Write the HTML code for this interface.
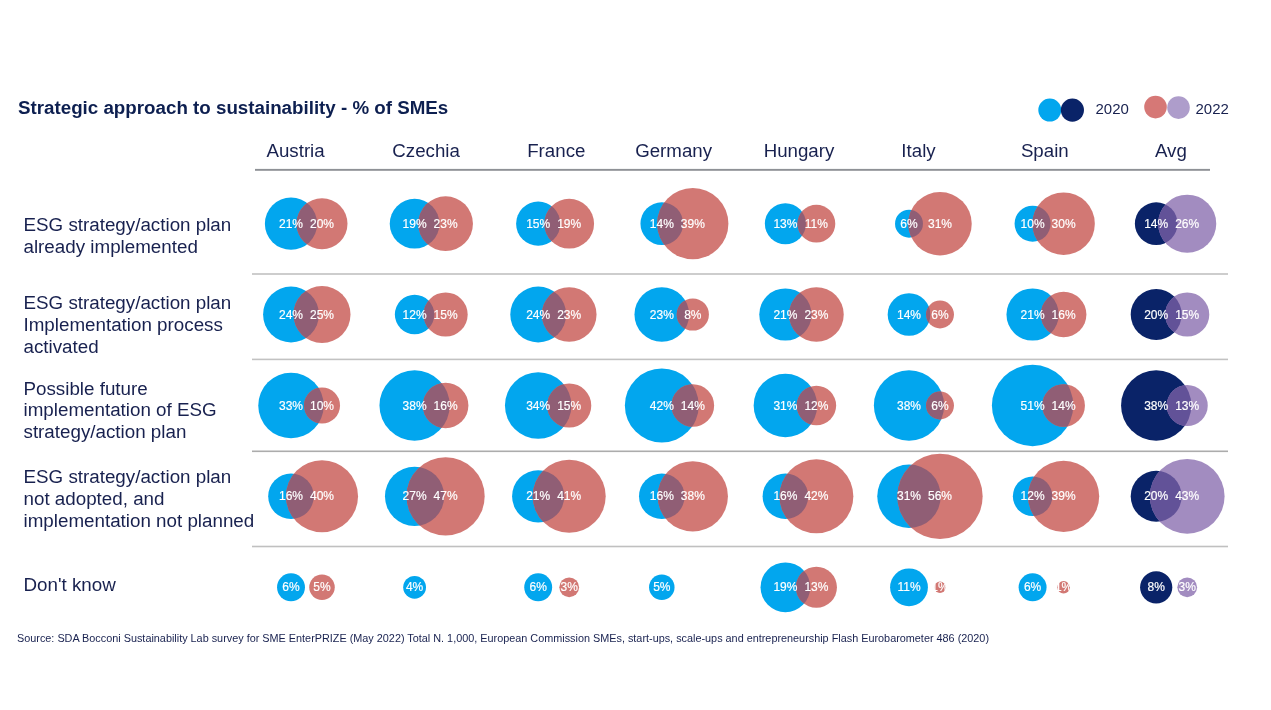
<!DOCTYPE html>
<html><head><meta charset="utf-8"><style>
html,body{margin:0;padding:0;background:#fff;}
body{width:1271px;height:710px;overflow:hidden;position:relative;}
svg{position:absolute;left:0;top:0;will-change:transform;}
text{font-family:"Liberation Sans",sans-serif;}
</style></head><body>
<svg width="1271" height="710" viewBox="0 0 1271 710">
<rect width="1271" height="710" fill="#fff"/>

<text x="18" y="113.6" font-size="18.75" font-weight="bold" fill="#0d1f50">Strategic approach to sustainability - % of SMEs</text>
<circle cx="1049.8" cy="110.1" r="11.5" fill="#02a6ee"/>
<circle cx="1072.4" cy="110.1" r="11.6" fill="#0a2368"/>
<text x="1095.5" y="114.3" font-size="15" fill="#18214f">2020</text>
<circle cx="1178.5" cy="107.6" r="11.3" fill="#ae9dcb"/>
<circle cx="1155.5" cy="107.1" r="11.3" fill="#d67876"/>
<text x="1195.5" y="113.6" font-size="15" fill="#18214f">2022</text>
<text x="295.6" y="156.8" font-size="18.7" fill="#18214f" text-anchor="middle">Austria</text>
<text x="426.1" y="156.8" font-size="18.7" fill="#18214f" text-anchor="middle">Czechia</text>
<text x="556.3" y="156.8" font-size="18.7" fill="#18214f" text-anchor="middle">France</text>
<text x="673.6" y="156.8" font-size="18.7" fill="#18214f" text-anchor="middle">Germany</text>
<text x="799.0" y="156.8" font-size="18.7" fill="#18214f" text-anchor="middle">Hungary</text>
<text x="918.5" y="156.8" font-size="18.7" fill="#18214f" text-anchor="middle">Italy</text>
<text x="1044.8" y="156.8" font-size="18.7" fill="#18214f" text-anchor="middle">Spain</text>
<text x="1170.9" y="156.8" font-size="18.7" fill="#18214f" text-anchor="middle">Avg</text>
<rect x="255" y="168.9" width="955" height="1.9" fill="#8e9196"/>
<rect x="252" y="273.1" width="976" height="1.8" fill="#c8c8c8"/>
<rect x="252" y="358.6" width="976" height="1.6" fill="#c2c2c2"/>
<rect x="252" y="450.5" width="976" height="1.6" fill="#acacac"/>
<rect x="252" y="545.7" width="976" height="1.6" fill="#c0c0c0"/>
<text x="23.5" y="231.3" font-size="18.8" fill="#18214f">ESG strategy/action plan</text>
<text x="23.5" y="252.6" font-size="18.8" fill="#18214f">already implemented</text>
<text x="23.5" y="309.1" font-size="18.8" fill="#18214f">ESG strategy/action plan</text>
<text x="23.5" y="330.7" font-size="18.8" fill="#18214f">Implementation process</text>
<text x="23.5" y="352.5" font-size="18.8" fill="#18214f">activated</text>
<text x="23.5" y="394.6" font-size="18.8" fill="#18214f">Possible future</text>
<text x="23.5" y="416.1" font-size="18.8" fill="#18214f">implementation of ESG</text>
<text x="23.5" y="437.7" font-size="18.8" fill="#18214f">strategy/action plan</text>
<text x="23.5" y="482.9" font-size="18.8" fill="#18214f">ESG strategy/action plan</text>
<text x="23.5" y="504.6" font-size="18.8" fill="#18214f">not adopted, and</text>
<text x="23.5" y="526.7" font-size="18.8" fill="#18214f">implementation not planned</text>
<text x="23.5" y="591.1" font-size="18.8" fill="#18214f">Don&#39;t know</text>
<circle cx="291.0" cy="223.7" r="26.12" fill="#02a6ee"/>
<circle cx="322.0" cy="223.7" r="25.49" fill="#d27874"/>
<clipPath id="c00"><circle cx="322.0" cy="223.7" r="25.49"/></clipPath>
<circle cx="291.0" cy="223.7" r="26.12" fill="#905e75" clip-path="url(#c00)"/>
<text x="291.0" y="227.8" font-size="12" fill="#fff" stroke="#fff" stroke-width="0.18" text-anchor="middle">21%</text>
<text x="322.0" y="227.8" font-size="12" fill="#fff" stroke="#fff" stroke-width="0.18" text-anchor="middle">20%</text>
<circle cx="414.6" cy="223.7" r="24.85" fill="#02a6ee"/>
<circle cx="445.6" cy="223.7" r="27.34" fill="#d27874"/>
<clipPath id="c01"><circle cx="445.6" cy="223.7" r="27.34"/></clipPath>
<circle cx="414.6" cy="223.7" r="24.85" fill="#905e75" clip-path="url(#c01)"/>
<text x="414.6" y="227.8" font-size="12" fill="#fff" stroke="#fff" stroke-width="0.18" text-anchor="middle">19%</text>
<text x="445.6" y="227.8" font-size="12" fill="#fff" stroke="#fff" stroke-width="0.18" text-anchor="middle">23%</text>
<circle cx="538.2" cy="223.7" r="22.08" fill="#02a6ee"/>
<circle cx="569.2" cy="223.7" r="24.85" fill="#d27874"/>
<clipPath id="c02"><circle cx="569.2" cy="223.7" r="24.85"/></clipPath>
<circle cx="538.2" cy="223.7" r="22.08" fill="#905e75" clip-path="url(#c02)"/>
<text x="538.2" y="227.8" font-size="12" fill="#fff" stroke="#fff" stroke-width="0.18" text-anchor="middle">15%</text>
<text x="569.2" y="227.8" font-size="12" fill="#fff" stroke="#fff" stroke-width="0.18" text-anchor="middle">19%</text>
<circle cx="661.8" cy="223.7" r="21.33" fill="#02a6ee"/>
<circle cx="692.8" cy="223.7" r="35.60" fill="#d27874"/>
<clipPath id="c03"><circle cx="692.8" cy="223.7" r="35.60"/></clipPath>
<circle cx="661.8" cy="223.7" r="21.33" fill="#905e75" clip-path="url(#c03)"/>
<text x="661.8" y="227.8" font-size="12" fill="#fff" stroke="#fff" stroke-width="0.18" text-anchor="middle">14%</text>
<text x="692.8" y="227.8" font-size="12" fill="#fff" stroke="#fff" stroke-width="0.18" text-anchor="middle">39%</text>
<circle cx="785.4" cy="223.7" r="20.55" fill="#02a6ee"/>
<circle cx="816.4" cy="223.7" r="18.90" fill="#d27874"/>
<clipPath id="c04"><circle cx="816.4" cy="223.7" r="18.90"/></clipPath>
<circle cx="785.4" cy="223.7" r="20.55" fill="#905e75" clip-path="url(#c04)"/>
<text x="785.4" y="227.8" font-size="12" fill="#fff" stroke="#fff" stroke-width="0.18" text-anchor="middle">13%</text>
<text x="816.4" y="227.8" font-size="12" fill="#fff" stroke="#fff" stroke-width="0.18" text-anchor="middle">11%</text>
<circle cx="909.0" cy="223.7" r="13.96" fill="#02a6ee"/>
<circle cx="940.0" cy="223.7" r="31.74" fill="#d27874"/>
<clipPath id="c05"><circle cx="940.0" cy="223.7" r="31.74"/></clipPath>
<circle cx="909.0" cy="223.7" r="13.96" fill="#905e75" clip-path="url(#c05)"/>
<text x="909.0" y="227.8" font-size="12" fill="#fff" stroke="#fff" stroke-width="0.18" text-anchor="middle">6%</text>
<text x="940.0" y="227.8" font-size="12" fill="#fff" stroke="#fff" stroke-width="0.18" text-anchor="middle">31%</text>
<circle cx="1032.6" cy="223.7" r="18.02" fill="#02a6ee"/>
<circle cx="1063.6" cy="223.7" r="31.22" fill="#d27874"/>
<clipPath id="c06"><circle cx="1063.6" cy="223.7" r="31.22"/></clipPath>
<circle cx="1032.6" cy="223.7" r="18.02" fill="#905e75" clip-path="url(#c06)"/>
<text x="1032.6" y="227.8" font-size="12" fill="#fff" stroke="#fff" stroke-width="0.18" text-anchor="middle">10%</text>
<text x="1063.6" y="227.8" font-size="12" fill="#fff" stroke="#fff" stroke-width="0.18" text-anchor="middle">30%</text>
<circle cx="1156.2" cy="223.7" r="21.33" fill="#0a2368"/>
<circle cx="1187.2" cy="223.7" r="29.06" fill="#a28cc0"/>
<clipPath id="c07"><circle cx="1187.2" cy="223.7" r="29.06"/></clipPath>
<circle cx="1156.2" cy="223.7" r="21.33" fill="#625298" clip-path="url(#c07)"/>
<text x="1156.2" y="227.8" font-size="12" fill="#fff" stroke="#fff" stroke-width="0.18" text-anchor="middle">14%</text>
<text x="1187.2" y="227.8" font-size="12" fill="#fff" stroke="#fff" stroke-width="0.18" text-anchor="middle">26%</text>
<circle cx="291.0" cy="314.5" r="27.92" fill="#02a6ee"/>
<circle cx="322.0" cy="314.5" r="28.50" fill="#d27874"/>
<clipPath id="c10"><circle cx="322.0" cy="314.5" r="28.50"/></clipPath>
<circle cx="291.0" cy="314.5" r="27.92" fill="#905e75" clip-path="url(#c10)"/>
<text x="291.0" y="318.6" font-size="12" fill="#fff" stroke="#fff" stroke-width="0.18" text-anchor="middle">24%</text>
<text x="322.0" y="318.6" font-size="12" fill="#fff" stroke="#fff" stroke-width="0.18" text-anchor="middle">25%</text>
<circle cx="414.6" cy="314.5" r="19.75" fill="#02a6ee"/>
<circle cx="445.6" cy="314.5" r="22.08" fill="#d27874"/>
<clipPath id="c11"><circle cx="445.6" cy="314.5" r="22.08"/></clipPath>
<circle cx="414.6" cy="314.5" r="19.75" fill="#905e75" clip-path="url(#c11)"/>
<text x="414.6" y="318.6" font-size="12" fill="#fff" stroke="#fff" stroke-width="0.18" text-anchor="middle">12%</text>
<text x="445.6" y="318.6" font-size="12" fill="#fff" stroke="#fff" stroke-width="0.18" text-anchor="middle">15%</text>
<circle cx="538.2" cy="314.5" r="27.92" fill="#02a6ee"/>
<circle cx="569.2" cy="314.5" r="27.34" fill="#d27874"/>
<clipPath id="c12"><circle cx="569.2" cy="314.5" r="27.34"/></clipPath>
<circle cx="538.2" cy="314.5" r="27.92" fill="#905e75" clip-path="url(#c12)"/>
<text x="538.2" y="318.6" font-size="12" fill="#fff" stroke="#fff" stroke-width="0.18" text-anchor="middle">24%</text>
<text x="569.2" y="318.6" font-size="12" fill="#fff" stroke="#fff" stroke-width="0.18" text-anchor="middle">23%</text>
<circle cx="661.8" cy="314.5" r="27.34" fill="#02a6ee"/>
<circle cx="692.8" cy="314.5" r="16.12" fill="#d27874"/>
<clipPath id="c13"><circle cx="692.8" cy="314.5" r="16.12"/></clipPath>
<circle cx="661.8" cy="314.5" r="27.34" fill="#905e75" clip-path="url(#c13)"/>
<text x="661.8" y="318.6" font-size="12" fill="#fff" stroke="#fff" stroke-width="0.18" text-anchor="middle">23%</text>
<text x="692.8" y="318.6" font-size="12" fill="#fff" stroke="#fff" stroke-width="0.18" text-anchor="middle">8%</text>
<circle cx="785.4" cy="314.5" r="26.12" fill="#02a6ee"/>
<circle cx="816.4" cy="314.5" r="27.34" fill="#d27874"/>
<clipPath id="c14"><circle cx="816.4" cy="314.5" r="27.34"/></clipPath>
<circle cx="785.4" cy="314.5" r="26.12" fill="#905e75" clip-path="url(#c14)"/>
<text x="785.4" y="318.6" font-size="12" fill="#fff" stroke="#fff" stroke-width="0.18" text-anchor="middle">21%</text>
<text x="816.4" y="318.6" font-size="12" fill="#fff" stroke="#fff" stroke-width="0.18" text-anchor="middle">23%</text>
<circle cx="909.0" cy="314.5" r="21.33" fill="#02a6ee"/>
<circle cx="940.0" cy="314.5" r="13.96" fill="#d27874"/>
<clipPath id="c15"><circle cx="940.0" cy="314.5" r="13.96"/></clipPath>
<circle cx="909.0" cy="314.5" r="21.33" fill="#905e75" clip-path="url(#c15)"/>
<text x="909.0" y="318.6" font-size="12" fill="#fff" stroke="#fff" stroke-width="0.18" text-anchor="middle">14%</text>
<text x="940.0" y="318.6" font-size="12" fill="#fff" stroke="#fff" stroke-width="0.18" text-anchor="middle">6%</text>
<circle cx="1032.6" cy="314.5" r="26.12" fill="#02a6ee"/>
<circle cx="1063.6" cy="314.5" r="22.80" fill="#d27874"/>
<clipPath id="c16"><circle cx="1063.6" cy="314.5" r="22.80"/></clipPath>
<circle cx="1032.6" cy="314.5" r="26.12" fill="#905e75" clip-path="url(#c16)"/>
<text x="1032.6" y="318.6" font-size="12" fill="#fff" stroke="#fff" stroke-width="0.18" text-anchor="middle">21%</text>
<text x="1063.6" y="318.6" font-size="12" fill="#fff" stroke="#fff" stroke-width="0.18" text-anchor="middle">16%</text>
<circle cx="1156.2" cy="314.5" r="25.49" fill="#0a2368"/>
<circle cx="1187.2" cy="314.5" r="22.08" fill="#a28cc0"/>
<clipPath id="c17"><circle cx="1187.2" cy="314.5" r="22.08"/></clipPath>
<circle cx="1156.2" cy="314.5" r="25.49" fill="#625298" clip-path="url(#c17)"/>
<text x="1156.2" y="318.6" font-size="12" fill="#fff" stroke="#fff" stroke-width="0.18" text-anchor="middle">20%</text>
<text x="1187.2" y="318.6" font-size="12" fill="#fff" stroke="#fff" stroke-width="0.18" text-anchor="middle">15%</text>
<circle cx="291.0" cy="405.5" r="32.74" fill="#02a6ee"/>
<circle cx="322.0" cy="405.5" r="18.02" fill="#d27874"/>
<clipPath id="c20"><circle cx="322.0" cy="405.5" r="18.02"/></clipPath>
<circle cx="291.0" cy="405.5" r="32.74" fill="#905e75" clip-path="url(#c20)"/>
<text x="291.0" y="409.6" font-size="12" fill="#fff" stroke="#fff" stroke-width="0.18" text-anchor="middle">33%</text>
<text x="322.0" y="409.6" font-size="12" fill="#fff" stroke="#fff" stroke-width="0.18" text-anchor="middle">10%</text>
<circle cx="414.6" cy="405.5" r="35.14" fill="#02a6ee"/>
<circle cx="445.6" cy="405.5" r="22.80" fill="#d27874"/>
<clipPath id="c21"><circle cx="445.6" cy="405.5" r="22.80"/></clipPath>
<circle cx="414.6" cy="405.5" r="35.14" fill="#905e75" clip-path="url(#c21)"/>
<text x="414.6" y="409.6" font-size="12" fill="#fff" stroke="#fff" stroke-width="0.18" text-anchor="middle">38%</text>
<text x="445.6" y="409.6" font-size="12" fill="#fff" stroke="#fff" stroke-width="0.18" text-anchor="middle">16%</text>
<circle cx="538.2" cy="405.5" r="33.24" fill="#02a6ee"/>
<circle cx="569.2" cy="405.5" r="22.08" fill="#d27874"/>
<clipPath id="c22"><circle cx="569.2" cy="405.5" r="22.08"/></clipPath>
<circle cx="538.2" cy="405.5" r="33.24" fill="#905e75" clip-path="url(#c22)"/>
<text x="538.2" y="409.6" font-size="12" fill="#fff" stroke="#fff" stroke-width="0.18" text-anchor="middle">34%</text>
<text x="569.2" y="409.6" font-size="12" fill="#fff" stroke="#fff" stroke-width="0.18" text-anchor="middle">15%</text>
<circle cx="661.8" cy="405.5" r="36.94" fill="#02a6ee"/>
<circle cx="692.8" cy="405.5" r="21.33" fill="#d27874"/>
<clipPath id="c23"><circle cx="692.8" cy="405.5" r="21.33"/></clipPath>
<circle cx="661.8" cy="405.5" r="36.94" fill="#905e75" clip-path="url(#c23)"/>
<text x="661.8" y="409.6" font-size="12" fill="#fff" stroke="#fff" stroke-width="0.18" text-anchor="middle">42%</text>
<text x="692.8" y="409.6" font-size="12" fill="#fff" stroke="#fff" stroke-width="0.18" text-anchor="middle">14%</text>
<circle cx="785.4" cy="405.5" r="31.74" fill="#02a6ee"/>
<circle cx="816.4" cy="405.5" r="19.75" fill="#d27874"/>
<clipPath id="c24"><circle cx="816.4" cy="405.5" r="19.75"/></clipPath>
<circle cx="785.4" cy="405.5" r="31.74" fill="#905e75" clip-path="url(#c24)"/>
<text x="785.4" y="409.6" font-size="12" fill="#fff" stroke="#fff" stroke-width="0.18" text-anchor="middle">31%</text>
<text x="816.4" y="409.6" font-size="12" fill="#fff" stroke="#fff" stroke-width="0.18" text-anchor="middle">12%</text>
<circle cx="909.0" cy="405.5" r="35.14" fill="#02a6ee"/>
<circle cx="940.0" cy="405.5" r="13.96" fill="#d27874"/>
<clipPath id="c25"><circle cx="940.0" cy="405.5" r="13.96"/></clipPath>
<circle cx="909.0" cy="405.5" r="35.14" fill="#905e75" clip-path="url(#c25)"/>
<text x="909.0" y="409.6" font-size="12" fill="#fff" stroke="#fff" stroke-width="0.18" text-anchor="middle">38%</text>
<text x="940.0" y="409.6" font-size="12" fill="#fff" stroke="#fff" stroke-width="0.18" text-anchor="middle">6%</text>
<circle cx="1032.6" cy="405.5" r="40.71" fill="#02a6ee"/>
<circle cx="1063.6" cy="405.5" r="21.33" fill="#d27874"/>
<clipPath id="c26"><circle cx="1063.6" cy="405.5" r="21.33"/></clipPath>
<circle cx="1032.6" cy="405.5" r="40.71" fill="#905e75" clip-path="url(#c26)"/>
<text x="1032.6" y="409.6" font-size="12" fill="#fff" stroke="#fff" stroke-width="0.18" text-anchor="middle">51%</text>
<text x="1063.6" y="409.6" font-size="12" fill="#fff" stroke="#fff" stroke-width="0.18" text-anchor="middle">14%</text>
<circle cx="1156.2" cy="405.5" r="35.14" fill="#0a2368"/>
<circle cx="1187.2" cy="405.5" r="20.55" fill="#a28cc0"/>
<clipPath id="c27"><circle cx="1187.2" cy="405.5" r="20.55"/></clipPath>
<circle cx="1156.2" cy="405.5" r="35.14" fill="#625298" clip-path="url(#c27)"/>
<text x="1156.2" y="409.6" font-size="12" fill="#fff" stroke="#fff" stroke-width="0.18" text-anchor="middle">38%</text>
<text x="1187.2" y="409.6" font-size="12" fill="#fff" stroke="#fff" stroke-width="0.18" text-anchor="middle">13%</text>
<circle cx="291.0" cy="496.3" r="22.80" fill="#02a6ee"/>
<circle cx="322.0" cy="496.3" r="36.05" fill="#d27874"/>
<clipPath id="c30"><circle cx="322.0" cy="496.3" r="36.05"/></clipPath>
<circle cx="291.0" cy="496.3" r="22.80" fill="#905e75" clip-path="url(#c30)"/>
<text x="291.0" y="500.4" font-size="12" fill="#fff" stroke="#fff" stroke-width="0.18" text-anchor="middle">16%</text>
<text x="322.0" y="500.4" font-size="12" fill="#fff" stroke="#fff" stroke-width="0.18" text-anchor="middle">40%</text>
<circle cx="414.6" cy="496.3" r="29.62" fill="#02a6ee"/>
<circle cx="445.6" cy="496.3" r="39.08" fill="#d27874"/>
<clipPath id="c31"><circle cx="445.6" cy="496.3" r="39.08"/></clipPath>
<circle cx="414.6" cy="496.3" r="29.62" fill="#905e75" clip-path="url(#c31)"/>
<text x="414.6" y="500.4" font-size="12" fill="#fff" stroke="#fff" stroke-width="0.18" text-anchor="middle">27%</text>
<text x="445.6" y="500.4" font-size="12" fill="#fff" stroke="#fff" stroke-width="0.18" text-anchor="middle">47%</text>
<circle cx="538.2" cy="496.3" r="26.12" fill="#02a6ee"/>
<circle cx="569.2" cy="496.3" r="36.50" fill="#d27874"/>
<clipPath id="c32"><circle cx="569.2" cy="496.3" r="36.50"/></clipPath>
<circle cx="538.2" cy="496.3" r="26.12" fill="#905e75" clip-path="url(#c32)"/>
<text x="538.2" y="500.4" font-size="12" fill="#fff" stroke="#fff" stroke-width="0.18" text-anchor="middle">21%</text>
<text x="569.2" y="500.4" font-size="12" fill="#fff" stroke="#fff" stroke-width="0.18" text-anchor="middle">41%</text>
<circle cx="661.8" cy="496.3" r="22.80" fill="#02a6ee"/>
<circle cx="692.8" cy="496.3" r="35.14" fill="#d27874"/>
<clipPath id="c33"><circle cx="692.8" cy="496.3" r="35.14"/></clipPath>
<circle cx="661.8" cy="496.3" r="22.80" fill="#905e75" clip-path="url(#c33)"/>
<text x="661.8" y="500.4" font-size="12" fill="#fff" stroke="#fff" stroke-width="0.18" text-anchor="middle">16%</text>
<text x="692.8" y="500.4" font-size="12" fill="#fff" stroke="#fff" stroke-width="0.18" text-anchor="middle">38%</text>
<circle cx="785.4" cy="496.3" r="22.80" fill="#02a6ee"/>
<circle cx="816.4" cy="496.3" r="36.94" fill="#d27874"/>
<clipPath id="c34"><circle cx="816.4" cy="496.3" r="36.94"/></clipPath>
<circle cx="785.4" cy="496.3" r="22.80" fill="#905e75" clip-path="url(#c34)"/>
<text x="785.4" y="500.4" font-size="12" fill="#fff" stroke="#fff" stroke-width="0.18" text-anchor="middle">16%</text>
<text x="816.4" y="500.4" font-size="12" fill="#fff" stroke="#fff" stroke-width="0.18" text-anchor="middle">42%</text>
<circle cx="909.0" cy="496.3" r="31.74" fill="#02a6ee"/>
<circle cx="940.0" cy="496.3" r="42.65" fill="#d27874"/>
<clipPath id="c35"><circle cx="940.0" cy="496.3" r="42.65"/></clipPath>
<circle cx="909.0" cy="496.3" r="31.74" fill="#905e75" clip-path="url(#c35)"/>
<text x="909.0" y="500.4" font-size="12" fill="#fff" stroke="#fff" stroke-width="0.18" text-anchor="middle">31%</text>
<text x="940.0" y="500.4" font-size="12" fill="#fff" stroke="#fff" stroke-width="0.18" text-anchor="middle">56%</text>
<circle cx="1032.6" cy="496.3" r="19.75" fill="#02a6ee"/>
<circle cx="1063.6" cy="496.3" r="35.60" fill="#d27874"/>
<clipPath id="c36"><circle cx="1063.6" cy="496.3" r="35.60"/></clipPath>
<circle cx="1032.6" cy="496.3" r="19.75" fill="#905e75" clip-path="url(#c36)"/>
<text x="1032.6" y="500.4" font-size="12" fill="#fff" stroke="#fff" stroke-width="0.18" text-anchor="middle">12%</text>
<text x="1063.6" y="500.4" font-size="12" fill="#fff" stroke="#fff" stroke-width="0.18" text-anchor="middle">39%</text>
<circle cx="1156.2" cy="496.3" r="25.49" fill="#0a2368"/>
<circle cx="1187.2" cy="496.3" r="37.38" fill="#a28cc0"/>
<clipPath id="c37"><circle cx="1187.2" cy="496.3" r="37.38"/></clipPath>
<circle cx="1156.2" cy="496.3" r="25.49" fill="#625298" clip-path="url(#c37)"/>
<text x="1156.2" y="500.4" font-size="12" fill="#fff" stroke="#fff" stroke-width="0.18" text-anchor="middle">20%</text>
<text x="1187.2" y="500.4" font-size="12" fill="#fff" stroke="#fff" stroke-width="0.18" text-anchor="middle">43%</text>
<circle cx="291.0" cy="587.3" r="13.96" fill="#02a6ee"/>
<circle cx="322.0" cy="587.3" r="12.75" fill="#d27874"/>
<clipPath id="c40"><circle cx="322.0" cy="587.3" r="12.75"/></clipPath>
<circle cx="291.0" cy="587.3" r="13.96" fill="#905e75" clip-path="url(#c40)"/>
<text x="291.0" y="591.4" font-size="12" fill="#fff" stroke="#fff" stroke-width="0.18" text-anchor="middle">6%</text>
<text x="322.0" y="591.4" font-size="12" fill="#fff" stroke="#fff" stroke-width="0.18" text-anchor="middle">5%</text>
<circle cx="414.6" cy="587.3" r="11.40" fill="#02a6ee"/>
<text x="414.6" y="591.4" font-size="12" fill="#fff" stroke="#fff" stroke-width="0.18" text-anchor="middle">4%</text>
<circle cx="538.2" cy="587.3" r="13.96" fill="#02a6ee"/>
<circle cx="569.2" cy="587.3" r="9.87" fill="#d27874"/>
<clipPath id="c42"><circle cx="569.2" cy="587.3" r="9.87"/></clipPath>
<circle cx="538.2" cy="587.3" r="13.96" fill="#905e75" clip-path="url(#c42)"/>
<text x="538.2" y="591.4" font-size="12" fill="#fff" stroke="#fff" stroke-width="0.18" text-anchor="middle">6%</text>
<text x="569.2" y="591.4" font-size="12" fill="#fff" stroke="#fff" stroke-width="0.18" text-anchor="middle">3%</text>
<circle cx="661.8" cy="587.3" r="12.75" fill="#02a6ee"/>
<text x="661.8" y="591.4" font-size="12" fill="#fff" stroke="#fff" stroke-width="0.18" text-anchor="middle">5%</text>
<circle cx="785.4" cy="587.3" r="24.85" fill="#02a6ee"/>
<circle cx="816.4" cy="587.3" r="20.55" fill="#d27874"/>
<clipPath id="c44"><circle cx="816.4" cy="587.3" r="20.55"/></clipPath>
<circle cx="785.4" cy="587.3" r="24.85" fill="#905e75" clip-path="url(#c44)"/>
<text x="785.4" y="591.4" font-size="12" fill="#fff" stroke="#fff" stroke-width="0.18" text-anchor="middle">19%</text>
<text x="816.4" y="591.4" font-size="12" fill="#fff" stroke="#fff" stroke-width="0.18" text-anchor="middle">13%</text>
<circle cx="909.0" cy="587.3" r="18.90" fill="#02a6ee"/>
<circle cx="940.0" cy="587.3" r="5.70" fill="#d27874"/>
<clipPath id="c45"><circle cx="940.0" cy="587.3" r="5.70"/></clipPath>
<circle cx="909.0" cy="587.3" r="18.90" fill="#905e75" clip-path="url(#c45)"/>
<text x="909.0" y="591.4" font-size="12" fill="#fff" stroke="#fff" stroke-width="0.18" text-anchor="middle">11%</text>
<text x="940.0" y="591.4" font-size="12" fill="#fff" stroke="#fff" stroke-width="0.18" text-anchor="middle">1%</text>
<circle cx="1032.6" cy="587.3" r="13.96" fill="#02a6ee"/>
<circle cx="1063.6" cy="587.3" r="6.24" fill="#d27874"/>
<clipPath id="c46"><circle cx="1063.6" cy="587.3" r="6.24"/></clipPath>
<circle cx="1032.6" cy="587.3" r="13.96" fill="#905e75" clip-path="url(#c46)"/>
<text x="1032.6" y="591.4" font-size="12" fill="#fff" stroke="#fff" stroke-width="0.18" text-anchor="middle">6%</text>
<text x="1063.6" y="591.4" font-size="12" fill="#fff" stroke="#fff" stroke-width="0.18" text-anchor="middle">1%</text>
<circle cx="1156.2" cy="587.3" r="16.12" fill="#0a2368"/>
<circle cx="1187.2" cy="587.3" r="9.87" fill="#a28cc0"/>
<clipPath id="c47"><circle cx="1187.2" cy="587.3" r="9.87"/></clipPath>
<circle cx="1156.2" cy="587.3" r="16.12" fill="#625298" clip-path="url(#c47)"/>
<text x="1156.2" y="591.4" font-size="12" fill="#fff" stroke="#fff" stroke-width="0.18" text-anchor="middle">8%</text>
<text x="1187.2" y="591.4" font-size="12" fill="#fff" stroke="#fff" stroke-width="0.18" text-anchor="middle">3%</text>
<text x="17" y="641.7" font-size="10.85" fill="#18214f">Source: SDA Bocconi Sustainability Lab survey for SME EnterPRIZE (May 2022) Total N. 1,000, European Commission SMEs, start-ups, scale-ups and entrepreneurship Flash Eurobarometer 486 (2020)</text>
</svg></body></html>
